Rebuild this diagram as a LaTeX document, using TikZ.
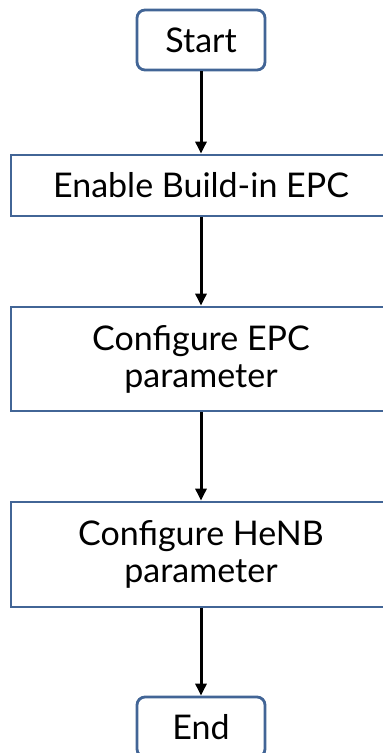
\documentclass[tikz,border=0pt]{standalone}
\usepackage{fontspec}
\setmainfont{Lato}
\usetikzlibrary{arrows.meta}
\definecolor{boxblue}{RGB}{66,101,150}

\begin{document}
\begin{tikzpicture}[x = 1pt, y = -1pt,
    boxstyle/.style={draw=boxblue,line width=2.8pt,minimum width=380pt,align=center,inner sep=0pt,
    font=\fontsize{34}{37}\selectfont},
    termstyle/.style={boxstyle,rounded corners=8pt,minimum width=128pt,minimum height=60pt},
    arrowstyle/.style={line width=3pt,-{Triangle[width=11pt,length=12pt]}}]
    \useasboundingbox (0,0) rectangle (383,753);
    \node[termstyle] (start) at (201,40) {Start};
    \node[boxstyle,minimum height=61pt] (enable) at (201,185.5) {Enable Build-in EPC};
    \node[boxstyle,minimum height=104pt] (cfgepc) at (201,359) {Configure EPC\\parameter};
    \node[boxstyle,minimum height=105pt] (cfghenb) at (201,554.5) {Configure HeNB\\parameter};
    \node[termstyle] (end) at (201,727) {End};
    \draw[arrowstyle] (start) -- (enable);
    \draw[arrowstyle] (enable) -- (cfgepc);
    \draw[arrowstyle] (cfgepc) -- (cfghenb);
    \draw[arrowstyle] (cfghenb) -- (end);
\end{tikzpicture}
\end{document}
